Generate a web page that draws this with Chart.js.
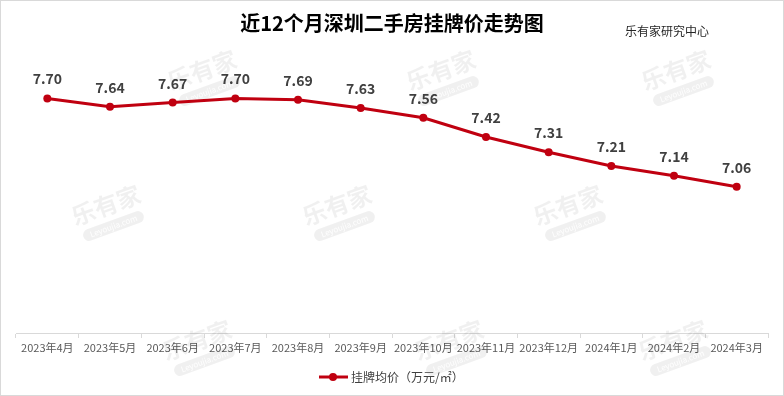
<!DOCTYPE html>
<html>
<head>
<meta charset="utf-8">
<script src="https://cdn.jsdelivr.net/npm/chart.js@4/dist/chart.umd.min.js"></script>
<style>
  html, body { margin: 0; padding: 0; background: #fff; }
  #wrap { position: relative; width: 784px; height: 396px; box-sizing: border-box; border: 1px solid #d9d9d9; }
</style>
</head>
<body>
<div id="wrap"><canvas id="chart" width="782" height="394"></canvas></div>
<script>
var months = ['2023年4月', '2023年5月', '2023年6月', '2023年7月', '2023年8月', '2023年9月',
    '2023年10月', '2023年11月', '2023年12月', '2024年1月', '2024年2月', '2024年3月'];
var prices = [7.70, 7.64, 7.67, 7.70, 7.69, 7.63, 7.56, 7.42, 7.31, 7.21, 7.14, 7.06];
var seriesName = '挂牌均价（万元/㎡）';
var titleText = '近12个月深圳二手房挂牌价走势图';
var sourceText = '乐有家研究中心';

var FONT = '"Noto Sans CJK SC", "Microsoft YaHei", sans-serif';
var RED = '#c00010';

// faint watermark stamps
var marks = [[203, 75], [442, 75], [677, 75], [107, 210], [338, 210], [569, 210], [198, 345], [450, 345], [674, 345]];

var extras = {
    id: 'extras',
    beforeDatasetsDraw: function (chart) {
        var ctx = chart.ctx;
        ctx.save();
        marks.forEach(function (m) {
            ctx.save();
            ctx.translate(m[0], m[1]);
            ctx.rotate(-0.35);
            ctx.fillStyle = 'rgba(0,0,0,0.06)';
            ctx.font = 'bold 24px ' + FONT;
            ctx.textAlign = 'center';
            ctx.textBaseline = 'middle';
            ctx.fillText('乐有家', 0, -6);
            ctx.beginPath();
            ctx.roundRect(-32, 10, 64, 12, 6);
            ctx.fill();
            ctx.fillStyle = 'rgba(255,255,255,0.9)';
            ctx.font = '8px ' + FONT;
            ctx.fillText('Leyoujia.com', 0, 16);
            ctx.restore();
        });
        ctx.restore();
    },
    afterDraw: function (chart) {
        var ctx = chart.ctx;
        ctx.save();
        // title
        ctx.fillStyle = '#000';
        ctx.font = 'bold 20px ' + FONT;
        ctx.textAlign = 'center';
        ctx.textBaseline = 'middle';
        ctx.fillText(titleText, 391, 22);
        ctx.font = '12px ' + FONT;
        ctx.fillStyle = '#262626';
        ctx.fillText(sourceText, 666, 30);

        // value labels
        var meta = chart.getDatasetMeta(0);
        ctx.font = 'bold 14px ' + FONT;
        ctx.fillStyle = '#404040';
        ctx.textBaseline = 'alphabetic';
        meta.data.forEach(function (pt, i) {
            ctx.fillText(prices[i].toFixed(2), pt.x, pt.y - 14);
        });

        // legend
        var ly = 376;
        ctx.strokeStyle = RED;
        ctx.lineWidth = 3;
        ctx.beginPath();
        ctx.moveTo(318, ly);
        ctx.lineTo(347, ly);
        ctx.stroke();
        ctx.fillStyle = RED;
        ctx.beginPath();
        ctx.arc(332, ly, 4, 0, Math.PI * 2);
        ctx.fill();
        ctx.fillStyle = '#404040';
        ctx.font = '12px ' + FONT;
        ctx.textAlign = 'left';
        ctx.textBaseline = 'middle';
        ctx.fillText(seriesName, 350, ly);
        ctx.restore();
    }
};

new Chart(document.getElementById('chart'), {
    type: 'line',
    data: {
        labels: months,
        datasets: [{
            label: seriesName,
            data: prices,
            borderColor: RED,
            backgroundColor: RED,
            borderWidth: 3,
            pointRadius: 4,
            pointBackgroundColor: RED,
            pointBorderWidth: 0,
            tension: 0
        }]
    },
    options: {
        responsive: false,
        animation: false,
        layout: { padding: { top: 56, left: 15, right: 15, bottom: 0 } },
        plugins: {
            legend: { display: false },
            tooltip: { enabled: false }
        },
        scales: {
            y: {
                display: false,
                min: 6.0,
                max: 8.0
            },
            x: {
                offset: true,
                grid: {
                    offset: true,
                    drawOnChartArea: false,
                    drawTicks: true,
                    tickLength: 5,
                    color: '#d9d9d9'
                },
                border: { color: '#d9d9d9' },
                ticks: {
                    color: '#595959',
                    font: { family: FONT, size: 11 },
                    maxRotation: 0,
                    autoSkip: false,
                    padding: 3
                },
                afterFit: function (scale) { scale.height = 62; }
            }
        }
    },
    plugins: [extras]
});
</script>
</body>
</html>
